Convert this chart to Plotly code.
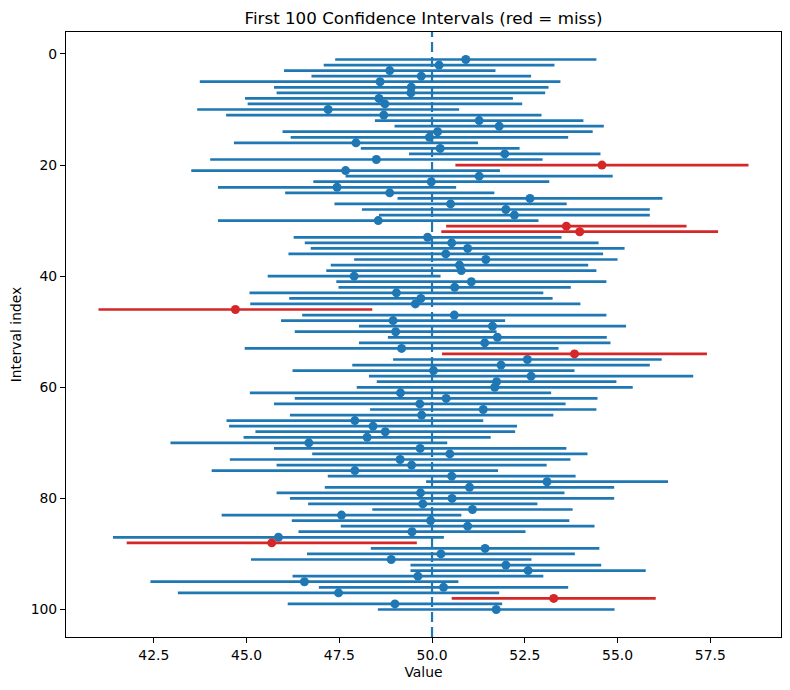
import plotly.graph_objects as go

# 100 intervals, index 1..100: sample mean and CI half-width
idx = list(range(1, 101))
means = [
    50.91, 50.19, 48.86, 49.71, 48.60, 49.44, 49.43, 48.57, 48.73, 47.20,
    48.70, 51.27, 51.81, 50.15, 49.93, 47.95, 50.22, 51.96, 48.50, 54.58,
    47.67, 51.27, 49.98, 47.44, 48.86, 52.64, 50.50, 51.99, 52.22, 48.55,
    53.62, 53.98, 49.88, 50.53, 50.96, 50.37, 51.45, 50.74, 50.79, 47.90,
    51.06, 50.61, 49.04, 49.70, 49.55, 44.70, 50.60, 48.95, 51.63, 49.02,
    51.76, 51.42, 49.18, 53.84, 52.57, 51.86, 50.04, 52.67, 51.74, 51.69,
    49.15, 50.38, 49.67, 51.38, 49.72, 47.92, 48.41, 48.74, 48.25, 46.68,
    49.68, 50.48, 49.14, 49.45, 47.92, 50.53, 53.10, 51.01, 49.69, 50.54,
    49.75, 51.09, 47.56, 49.96, 50.96, 49.46, 45.86, 45.68, 51.43, 50.24,
    48.90, 51.99, 52.59, 49.62, 46.56, 50.31, 47.48, 53.28, 49.00, 51.73,
]
half_widths = [
    3.52, 3.11, 2.85, 2.96, 4.86, 3.70, 3.62, 3.61, 3.70, 3.53,
    4.25, 2.81, 2.82, 4.18, 3.74, 3.29, 2.14, 2.58, 4.48, 3.95,
    4.16, 3.60, 3.18, 3.21, 2.82, 3.57, 3.13, 3.88, 3.65, 4.32,
    3.24, 3.73, 3.61, 3.96, 4.23, 4.24, 3.55, 3.47, 3.64, 2.33,
    3.64, 3.13, 3.96, 3.55, 4.45, 3.69, 4.10, 3.02, 3.60, 2.72,
    2.95, 3.39, 4.23, 3.57, 3.62, 4.01, 3.80, 4.37, 3.23, 3.72,
    4.06, 4.08, 3.93, 3.05, 3.55, 3.46, 3.88, 3.50, 3.33, 3.73,
    3.94, 3.71, 4.59, 3.64, 3.86, 3.34, 3.26, 3.90, 3.88, 4.37,
    3.09, 2.70, 3.23, 3.74, 3.42, 3.06, 4.46, 3.91, 3.08, 3.61,
    3.78, 2.57, 3.17, 3.38, 4.15, 3.36, 4.33, 2.75, 2.89, 3.19,
]
true_mean = 50.0

BLUE = "#1f77b4"
RED = "#d62728"
FONT = "DejaVu Sans"

hit_y, hit_m, hit_h = [], [], []
miss_y, miss_m, miss_h = [], [], []
for i, m, h in zip(idx, means, half_widths):
    if m - h > true_mean or m + h < true_mean:
        miss_y.append(i); miss_m.append(m); miss_h.append(h)
    else:
        hit_y.append(i); hit_m.append(m); hit_h.append(h)

def ci_trace(xs, ys, hs, color):
    return go.Scatter(
        x=xs, y=ys, mode="markers",
        marker=dict(color=color, size=9),
        error_x=dict(type="data", array=hs, symmetric=True,
                     thickness=2.7, width=0, color=color),
        showlegend=False, hoverinfo="skip",
    )

fig = go.Figure()
fig.add_trace(ci_trace(hit_m, hit_y, hit_h, BLUE))
fig.add_trace(ci_trace(miss_m, miss_y, miss_h, RED))

# dashed line at the true mean
fig.add_shape(type="line", x0=true_mean, x1=true_mean, xref="x",
              y0=0, y1=1, yref="paper", layer="above",
              line=dict(color=BLUE, width=2.2, dash="10px,5px"))

# matplotlib-style 5% margins
lo = min(m - h for m, h in zip(means, half_widths))
hi = max(m + h for m, h in zip(means, half_widths))
pad = (hi - lo) * 0.05
ypad = (idx[-1] - idx[0]) * 0.05

axis_style = dict(
    showgrid=False, zeroline=False, showline=True, mirror=True,
    linecolor="black", linewidth=1.1, ticks="outside", ticklen=5,
    tickwidth=1.1, tickcolor="black", automargin=False,
    tickfont=dict(family=FONT, size=13.9, color="black"),
)

# page body adds an 8px offset, so the figure is a bit smaller than the window
fig.update_layout(
    width=782, height=682,
    margin=dict(l=58, r=9, t=24, b=53),
    plot_bgcolor="white", paper_bgcolor="white",
    title=dict(text="First 100 Confidence Intervals (red = miss)",
               x=0.5, xref="paper", xanchor="center",
               y=0.985, yref="container", yanchor="middle",
               font=dict(family=FONT, size=16.7, color="black")),
    xaxis=dict(range=[lo - pad, hi + pad],
               tickvals=[42.5, 45.0, 47.5, 50.0, 52.5, 55.0, 57.5],
               tickformat=".1f",
               title=dict(text="Value", standoff=5,
                          font=dict(family=FONT, size=13.9, color="black")),
               **axis_style),
    yaxis=dict(range=[idx[-1] + ypad, idx[0] - ypad],
               tickvals=[0, 20, 40, 60, 80, 100],
               title=dict(text="Interval index", standoff=11,
                          font=dict(family=FONT, size=13.9, color="black")),
               **axis_style),
)

fig.write_html("out.html")
